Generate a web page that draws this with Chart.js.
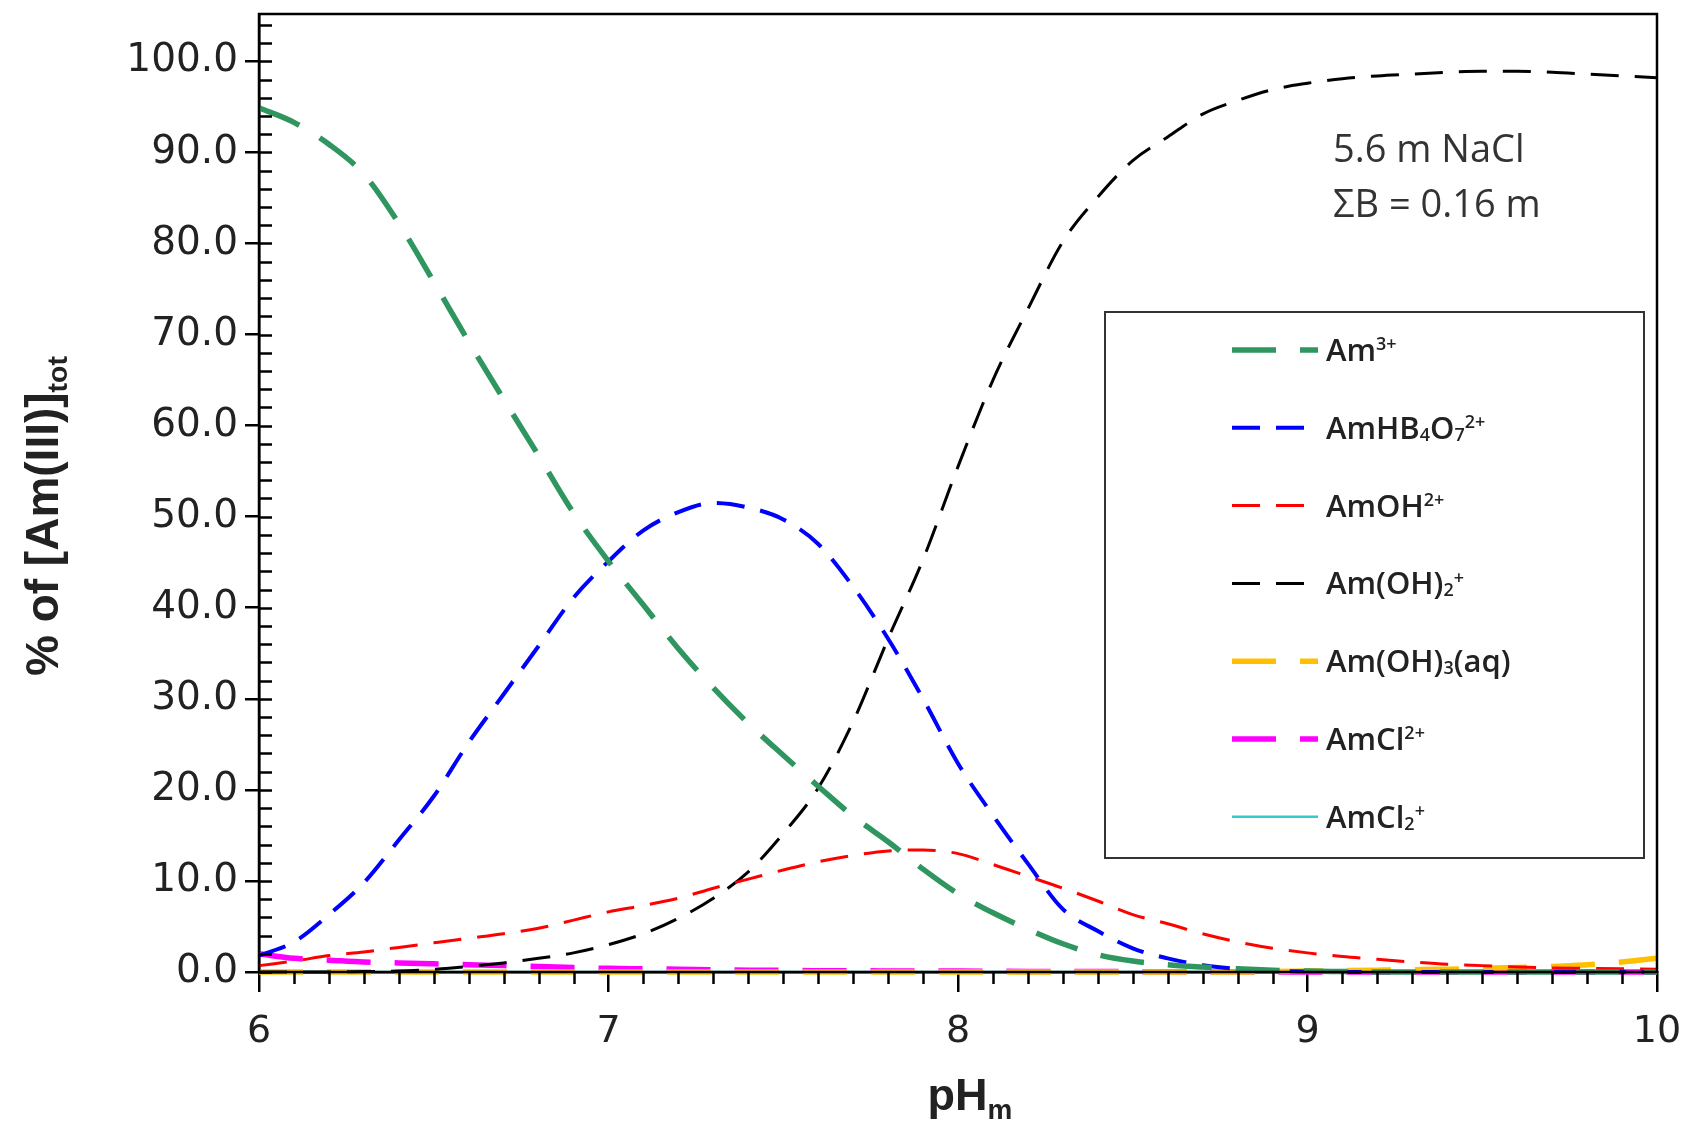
<!DOCTYPE html>
<html>
<head>
<meta charset="utf-8">
<script src="https://cdn.jsdelivr.net/npm/chart.js@4.4.1/dist/chart.umd.min.js"></script>
<style>
  html, body { margin: 0; padding: 0; background: #fff; }
  #wrap { width: 1687px; height: 1124px; position: relative; }
</style>
</head>
<body>
<div id="wrap"><canvas id="specChart"></canvas></div>
<script>
// pH_m values (x) and % of [Am(III)]tot for each species
const pH = [6.0,6.1,6.2,6.3,6.4,6.5,6.6,6.7,6.8,6.9,
            7.0,7.1,7.2,7.3,7.4,7.5,7.6,7.7,7.8,7.9,
            8.0,8.1,8.2,8.3,8.4,8.5,8.6,8.7,8.8,8.9,
            9.0,9.1,9.2,9.3,9.4,9.5,9.6,9.7,9.8,9.9,10.0];

const am3 = [94.9,93.3,90.9,87.6,82.2,75.8,69.2,62.9,56.7,50.4,
             45.1,40.3,35.5,31.2,27.3,23.8,20.4,17.1,14.3,11.3,
             8.6,6.5,4.7,3.1,1.9,1.2,0.8,0.55,0.35,0.2,
             0.1,0.05,0,0,0,0,0,0,0,0,0];
const amHB4O7 = [1.8,3.3,6.3,9.8,14.5,19.3,25.2,30.5,35.8,41.1,
                 45.1,48.5,50.5,51.5,51.0,49.7,47.0,42.3,36.6,30.0,
                 22.9,17.2,11.9,6.9,4.5,2.6,1.5,0.75,0.35,0.15,
                 0.05,0,0,0,0,0,0,0,0,0,0];
const amOH = [0.7,1.2,1.8,2.2,2.7,3.2,3.7,4.2,4.8,5.7,
              6.6,7.3,8.1,9.2,10.2,11.2,12.1,12.8,13.3,13.4,
              13.0,11.8,10.5,9.2,7.8,6.3,5.3,4.2,3.3,2.6,
              2.1,1.7,1.4,1.1,0.85,0.7,0.55,0.45,0.4,0.35,0.3];
const amOH2 = [0,0,0,0.05,0.1,0.3,0.6,1.0,1.5,2.1,
               3.0,4.2,5.9,8.1,11.0,15.2,20.2,27.5,36.6,45.3,
               55.5,65.0,72.8,80.2,85.1,89.1,91.7,94.2,95.7,96.9,
               97.6,98.1,98.4,98.6,98.8,98.9,98.9,98.8,98.6,98.4,98.2];
const amOH3 = [0,0,0,0,0,0,0,0,0,0,
               0,0,0,0,0,0,0,0,0,0,
               0,0,0,0,0,0,0,0,0,0.05,
               0.1,0.15,0.2,0.25,0.3,0.4,0.5,0.6,0.8,1.1,1.5];
const amCl = [2.0,1.5,1.3,1.1,1.0,0.9,0.8,0.7,0.6,0.5,
              0.4,0.35,0.3,0.25,0.2,0.2,0.15,0.15,0.1,0.1,
              0.1,0.08,0.06,0.05,0.05,0.04,0.03,0.02,0.02,0.01,
              0,0,0,0,0,0,0,0,0,0,0];
const amCl2 = [0,0,0,0,0,0,0,0,0,0,
               0,0,0,0,0,0,0,0,0,0,
               0,0,0,0,0,0,0,0,0,0,
               0,0,0,0,0,0,0,0,0,0,0];

const yTicks = [0,10,20,30,40,50,60,70,80,90,100];
const xTicks = [6,7,8,9,10];

// labels use ^{..} / _{..} for super- and subscripts
const speciesLabels = ['Am^{3+}','AmHB_{4}O_{7}^{2+}','AmOH^{2+}','Am(OH)_{2}^{+}','Am(OH)_{3}(aq)','AmCl^{2+}','AmCl_{2}^{+}'];
const noteLines = ['5.6 m NaCl','ΣB = 0.16 m'];
const xTitle = 'pH_{m}';
const yTitle = '% of [Am(III)]_{tot}';

function pts(ys){ return pH.map((x,i)=>({x:x, y:ys[i]})); }

function richParts(s){
    const out = [];
    const re = /([\^_])\{([^}]*)\}/g;
    let last = 0, m;
    while((m = re.exec(s))){
        if(m.index > last) out.push({t:s.slice(last, m.index), k:''});
        out.push({t:m[2], k:m[1]});
        last = re.lastIndex;
    }
    if(last < s.length) out.push({t:s.slice(last), k:''});
    return out;
}
function richWidth(ctx, s, size, weight, family, small){
    let w = 0;
    richParts(s).forEach(p=>{
        ctx.font = weight+' '+(p.k ? size*(small||0.62) : size)+'px '+family;
        w += ctx.measureText(p.t).width;
    });
    return w;
}
function drawRich(ctx, s, x, y, size, weight, family, subDrop, small){
    richParts(s).forEach(p=>{
        const fs = p.k ? size*(small||0.62) : size;
        const dy = p.k==='^' ? -size*0.34 : (p.k==='_' ? size*(subDrop||0.12) : 0);
        ctx.font = weight+' '+fs+'px '+family;
        ctx.fillText(p.t, x, y+dy);
        x += ctx.measureText(p.t).width;
    });
    return x;
}

const extras = {
    id:'extras',
    afterDraw(chart){
        const ctx = chart.ctx;
        const xs = chart.scales.x, ys = chart.scales.y;
        const a = chart.chartArea;
        ctx.save();
        // frame
        ctx.strokeStyle = '#000';
        ctx.lineWidth = 2.5;
        ctx.strokeRect(a.left, a.top, a.right-a.left, a.bottom-a.top);
        // y inner ticks every 2
        ctx.beginPath();
        for(let v=0; v<=104; v+=2){
            const py = Math.round(ys.getPixelForValue(v))+0.5;
            ctx.moveTo(a.left, py); ctx.lineTo(a.left+13, py);
        }
        // x minor ticks every 0.1
        for(let i=1; i<40; i++){
            if(i%10===0) continue;
            const px = Math.round(xs.getPixelForValue(6+i/10))+0.5;
            ctx.moveTo(px, a.bottom); ctx.lineTo(px, a.bottom+12);
        }
        ctx.stroke();

        // axis titles
        ctx.fillStyle = '#222';
        ctx.textBaseline = 'alphabetic';
        ctx.textAlign = 'left';
        const fam = '"Liberation Sans", Arial, sans-serif';
        let w = richWidth(ctx, xTitle, 45, 'bold', fam);
        drawRich(ctx, xTitle, (a.left+a.right)/2 - w/2 + 12, 1110, 45, 'bold', fam, 0.2);
        ctx.save();
        ctx.translate(42, 516);
        ctx.rotate(-Math.PI/2);
        w = richWidth(ctx, yTitle, 46, 'bold', fam);
        drawRich(ctx, yTitle, -w/2, 16, 46, 'bold', fam, 0.2);
        ctx.restore();

        // note
        ctx.fillStyle = '#333';
        ctx.font = '38px "Open Sans", sans-serif';
        ctx.fillText(noteLines[0], 1333, 162);
        ctx.fillText(noteLines[1], 1333, 217);

        // legend box
        ctx.strokeStyle = '#333';
        ctx.lineWidth = 2;
        ctx.strokeRect(1105, 312, 539, 546);
        const lfam = '"Open Sans", sans-serif';
        chart.data.datasets.forEach((ds,i)=>{
            const cy = 350 + i*77.8;
            ctx.save();
            ctx.strokeStyle = ds.borderColor;
            ctx.lineWidth = ds.borderWidth;
            ctx.setLineDash(ds.borderDash || []);
            ctx.beginPath();
            ctx.moveTo(1232, cy); ctx.lineTo(1318, cy);
            ctx.stroke();
            ctx.restore();
            ctx.fillStyle = '#222';
            drawRich(ctx, ds.label, 1326, cy+11, 31, '600', lfam, 0.06, 0.58);
        });
        ctx.restore();
    }
};

const ctx = document.getElementById('specChart').getContext('2d');
new Chart(ctx, {
    type:'line',
    data:{
        datasets:[
            {label:speciesLabels[0], data:pts(am3), borderColor:'#2f9660', borderWidth:5.5, borderDash:[44,24]},
            {label:speciesLabels[1], data:pts(amHB4O7), borderColor:'#0000ff', borderWidth:4, borderDash:[28,16]},
            {label:speciesLabels[2], data:pts(amOH), borderColor:'#ff0000', borderWidth:3, borderDash:[28,16]},
            {label:speciesLabels[3], data:pts(amOH2), borderColor:'#000000', borderWidth:3, borderDash:[28,16]},
            {label:speciesLabels[4], data:pts(amOH3), borderColor:'#ffc000', borderWidth:5.5, borderDash:[44,24]},
            {label:speciesLabels[5], data:pts(amCl), borderColor:'#ff00ff', borderWidth:5.5, borderDash:[44,24]},
            {label:speciesLabels[6], data:pts(amCl2), borderColor:'#33cccc', borderWidth:2.5, borderDash:[]}
        ]
    },
    options:{
        responsive:true,
        maintainAspectRatio:false,
        animation:false,
        layout:{ padding:{ top:14, right:30, left:0, bottom:0 } },
        elements:{
            point:{ radius:0 },
            line:{ cubicInterpolationMode:'monotone', fill:false }
        },
        datasets:{ line:{ clip:6 } },
        plugins:{
            legend:{ display:false },
            tooltip:{ enabled:false }
        },
        scales:{
            x:{
                type:'linear', min:6, max:10,
                afterFit(s){ s.height = 152; s.paddingLeft = 0; s.paddingRight = 0; },
                afterBuildTicks(s){ s.ticks = xTicks.map(v=>({value:v})); },
                border:{ display:true, color:'#000', width:2.5 },
                grid:{ display:true, drawOnChartArea:false, drawTicks:true, tickLength:20, color:'#000', lineWidth:2.5 },
                ticks:{ padding:17, color:'#222', font:{ family:'"DejaVu Sans", sans-serif', size:38 }, maxRotation:0 }
            },
            y:{
                type:'linear', min:0, max:105.2,
                afterFit(s){ s.width = 259; s.paddingTop = 0; s.paddingBottom = 0; },
                afterBuildTicks(s){ s.ticks = yTicks.map(v=>({value:v})); },
                border:{ display:true, color:'#000', width:2.5 },
                grid:{ display:true, drawOnChartArea:false, drawTicks:true, tickLength:14, color:'#000', lineWidth:2.5 },
                ticks:{ padding:7, color:'#222', font:{ family:'"DejaVu Sans", sans-serif', size:39 },
                        callback:(v)=>Number(v).toFixed(1) }
            }
        }
    },
    plugins:[extras]
});
</script>
</body>
</html>
